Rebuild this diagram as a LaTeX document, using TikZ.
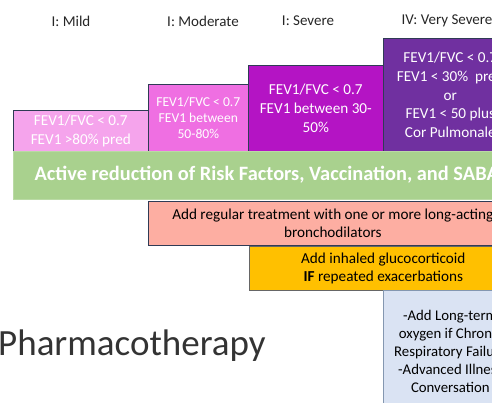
\documentclass[tikz,border=0pt]{standalone}
\usepackage{fontspec}
\setmainfont{Carlito}
\definecolor{navy}{HTML}{2F3B55}
\definecolor{mildpink}{HTML}{F5A4EC}
\definecolor{modpink}{HTML}{EF6FE2}
\definecolor{sevpurple}{HTML}{B414C4}
\definecolor{vsevpurple}{HTML}{7030A0}
\definecolor{riskgreen}{HTML}{A9D18E}
\definecolor{salmon}{HTML}{FDAEA2}
\definecolor{amber}{HTML}{FFC000}
\definecolor{paleblue}{HTML}{DAE3F3}
\definecolor{blueedge}{HTML}{8497B0}
\tikzset{
  stage/.style={draw=navy, line width=0.6pt, anchor=north west, inner sep=0pt,
    align=center, text=white, font=\fontsize{15.2}{18.8}\selectfont},
  treat/.style={draw=navy, line width=0.6pt, anchor=north west, inner sep=0pt,
    align=center, text=black, font=\fontsize{15.2}{17.5}\selectfont},
  heading/.style={font=\fontsize{15}{17}\selectfont, text=black!85}
}
\begin{document}
\begin{tikzpicture}[x=1pt,y=-1pt]
\useasboundingbox (0,0) rectangle (492,402);
\clip (0,0) rectangle (492,402);
% stage headings
\node[heading] (hmild) at (71,21) {I: Mild};
\node[heading] (hmod) at (203,21) {I: Moderate};
\node[heading] (hsev) at (308,21) {I: Severe};
\node[heading] (hvsev) at (447,21) {IV: Very Severe};
% stage boxes
\node[stage, fill=mildpink, minimum width=135pt, minimum height=41pt] (mild) at (13,110)
  {FEV1/FVC < 0.7\\FEV1 >80\% pred};
\node[stage, fill=modpink, minimum width=100pt, minimum height=67pt,
  font=\fontsize{13.6}{16}\selectfont] (moderate) at (148,84)
  {FEV1/FVC < 0.7\\FEV1 between\\50-80\%};
\node[stage, fill=sevpurple, minimum width=135pt, minimum height=86pt] (severe) at (248,65)
  {FEV1/FVC < 0.7\\FEV1 between 30-\\50\%};
\node[stage, fill=vsevpurple, minimum width=134pt, minimum height=113pt] (vsevere) at (383,38)
  {FEV1/FVC < 0.7\\FEV1 < 30\%~ pred\\or\\FEV1 < 50 plus\\Cor Pulmonale};
% treatment bars
\node[draw=riskgreen!80!white, fill=riskgreen, anchor=north west, inner sep=0pt,
  minimum width=504pt, minimum height=48pt] (risk) at (13,151) {};
\node[anchor=west, text=white, font=\bfseries\fontsize{20.4}{22}\selectfont] (risktext) at (31,175)
  {Active reduction of Risk Factors, Vaccination, and SABA};
\node[treat, fill=salmon, minimum width=369pt, minimum height=44pt] (lama) at (148,201)
  {Add regular treatment with one or more long-acting\\bronchodilators};
\node[treat, draw=black!60, fill=amber, minimum width=268pt, minimum height=44pt,
  font=\fontsize{15.2}{18}\selectfont] (ics) at (249,246)
  {Add inhaled glucocorticoid\\\textbf{IF} repeated exacerbations};
\node[treat, draw=blueedge, fill=paleblue, minimum width=134pt, minimum height=122pt,
  font=\fontsize{14.8}{18}\selectfont] (oxygen) at (383,290)
  {-Add Long-term\\oxygen if Chronic\\Respiratory Failure\\-Advanced Illness\\Conversation};
% title
\node[anchor=base west, inner sep=0pt, text=black!80, font=\fontsize{37}{40}\selectfont] (title) at (-2,355)
  {Pharmacotherapy};
\end{tikzpicture}
\end{document}
